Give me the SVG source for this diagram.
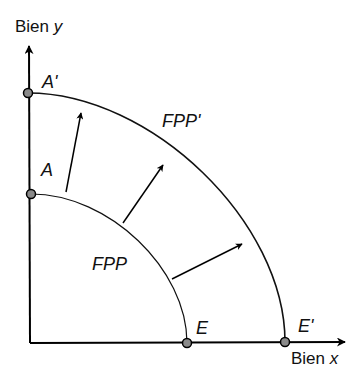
<svg xmlns="http://www.w3.org/2000/svg" width="347" height="370" viewBox="0 0 347 370">
<style>
text{font-family:"Liberation Sans",Arial,sans-serif;fill:#111}
.lbl{font-size:18px;font-style:italic}
.ax{font-size:17px}
.axis{stroke:#000;stroke-width:2;fill:none}
.arc{fill:none;stroke:#111}
.vec{stroke:#000;stroke-width:1.5;fill:none;marker-end:url(#ah)}
.dot{fill:#8a8a8a;stroke:#000;stroke-width:1.5}
</style>
<defs>
<marker id="ah" viewBox="0 0 10 10" refX="9" refY="5" markerWidth="7" markerHeight="7" markerUnits="userSpaceOnUse" orient="auto">
<path d="M0,0 L10,5 L0,10 L3,5 Z" fill="#000"/>
</marker>
<marker id="axh" viewBox="0 0 10 10" refX="9" refY="5" markerWidth="9" markerHeight="9" markerUnits="userSpaceOnUse" orient="auto">
<path d="M0,0 L10,5 L0,10 L3,5 Z" fill="#000"/>
</marker>
</defs>
<g id="connectors">
<path class="axis" d="M30,343 L29,46" marker-end="url(#axh)"/>
<path class="axis" d="M30,343 L345,342" marker-end="url(#axh)"/>
<path id="fpp" class="arc" stroke-width="1.2" stroke="#333" d="M31,194 C109,194 187,269 187,343"/>
<path id="fpp2" class="arc" stroke-width="1.6" d="M28,93 C151,93 285,222 285,342"/>
<path class="vec" d="M66,192 L81,113"/>
<path class="vec" d="M123,223 L163,165"/>
<path class="vec" d="M172,279 L242,244"/>
</g>
<g id="axis-labels">
<text class="ax" x="15" y="32">Bien <tspan font-style="italic">y</tspan></text>
<text class="ax" x="291" y="364">Bien <tspan font-style="italic">x</tspan></text>
</g>
<g id="node-A"><circle class="dot" cx="31" cy="194" r="4.5"/><text class="lbl" x="41" y="176">A</text></g>
<g id="node-A2"><circle class="dot" cx="28" cy="93" r="4.5"/><text class="lbl" x="42" y="88">A'</text></g>
<g id="node-E"><circle class="dot" cx="187" cy="343" r="4.5"/><text class="lbl" x="196" y="334">E</text></g>
<g id="node-E2"><circle class="dot" cx="285" cy="342" r="4.5"/><text class="lbl" x="298" y="332">E'</text></g>
<g id="curve-labels">
<text class="lbl" x="92" y="270">FPP</text>
<text class="lbl" x="162" y="127">FPP'</text>
</g>
</svg>
